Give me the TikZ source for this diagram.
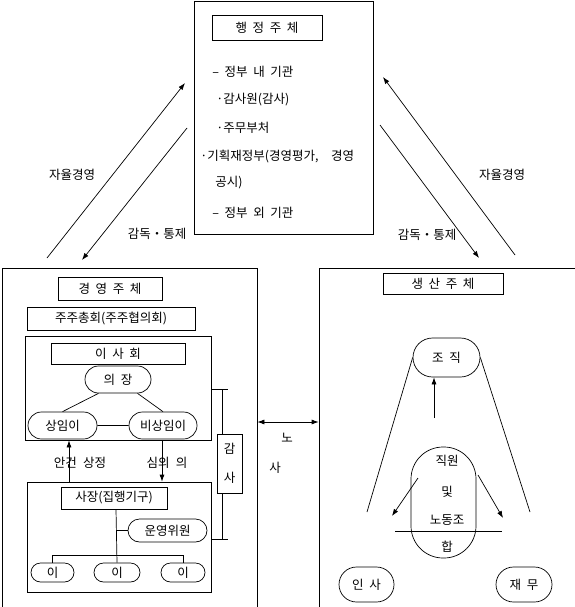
\documentclass[tikz,border=0pt]{standalone}
\usepackage{fontspec}
\setmainfont[WordSpace=2]{Noto Sans CJK KR}
\usetikzlibrary{shapes.misc,arrows.meta}

\begin{document}
\begin{tikzpicture}[x=1pt,y=-1pt,>={Latex[length=7pt,width=5pt]},line width=0.7pt,
    every node/.style={font=\fontsize{12.5}{15}\selectfont},
    box/.style={draw,inner sep=0pt},
    pill/.style={draw,rounded rectangle,inner sep=0pt},
    txt/.style={anchor=west,inner sep=0pt}]
    \useasboundingbox (0,0) rectangle (574,607);

    % Administration box (top)
    \node[box,minimum width=179pt,minimum height=233pt] (gov) at (283.5,117.5) {};
    \node[box,minimum width=110pt,minimum height=25pt] (govtitle) at (267,27.5) {행 정 주 체};
    \node[txt] (g1) at (212,72) {– 정부 내 기관};
    \node[txt] (g2) at (216,100) {·감사원(감사)};
    \node[txt] (g3) at (216,128) {·주무부처};
    \node[txt] (g4) at (200,157) {·기획재정부(경영평가,\quad 경영};
    \node[txt] (g5) at (215,183) {공시)};
    \node[txt] (g6) at (212,213) {– 정부 외 기관};

    % Management box (left)
    \node[box,minimum width=255pt,minimum height=342pt] (mgmt) at (129.5,439) {};
    \node[box,minimum width=104pt,minimum height=23pt] (mgmttitle) at (110,288.5) {경 영 주 체};
    \node[box,minimum width=168pt,minimum height=23pt] (owners) at (111,318.5) {주주총회(주주협의회)};

    % Board of directors
    \node[box,minimum width=186pt,minimum height=104pt] (board) at (118,388) {};
    \node[box,minimum width=134pt,minimum height=21pt] (boardtitle) at (118,353.5) {이 사 회};
    \node[pill,minimum width=66pt,minimum height=27pt] (chair) at (118,379.5) {의 장};
    \node[pill,minimum width=69pt,minimum height=27pt] (full) at (62.5,425.5) {상임이};
    \node[pill,minimum width=68pt,minimum height=27pt] (part) at (163,425.5) {비상임이};
    \draw (chair.south west) -- (full.north);
    \draw (chair.south east) -- (part.north);
    \draw (full) -- (part);

    % Executive
    \node[box,minimum width=184pt,minimum height=110pt] (exec) at (119,537) {};
    \node[box,minimum width=106pt,minimum height=22pt] (ceo) at (114,498) {사장(집행기구)};
    \node[pill,minimum width=79pt,minimum height=23pt] (comm) at (167.5,530.5) {운영위원};
    \foreach \i/\x/\w in {1/52.5/43,2/117/46,3/183/44} {
        \node[pill,minimum width=\w pt,minimum height=19pt] (dir\i) at (\x,572.5) {이};
      }
    \coordinate (stem) at (116,555);
    \draw (stem |- ceo.south) -- (dir2.north);
    \draw (stem |- comm) -- (comm.west);
    \draw (dir1.north) -- (dir1.north |- stem) -- (dir3.north |- stem) -- (dir3.north);

    % Board <-> executive
    \coordinate (up) at (69,0);
    \coordinate (down) at (162,0);
    \draw[->] (exec.north -| up) -- (board.south -| up);
    \draw[->] (board.south -| down) -- (exec.north -| down);
    \node (l1) at (80,463) {안건\enspace 상정};
    \node (l2) at (167,463) {심의\enspace 의};

    % Auditor
    \node[box,minimum width=25pt,minimum height=59pt,align=center] (audit) at (229.5,463.5) {감\\[14pt]사};
    \coordinate (atop) at (222,389);
    \coordinate (abot) at (222,539);
    \draw (board.east |- atop) -- ++(17,0);
    \draw (exec.east |- abot) -- ++(17,0);
    \draw (atop) -- (audit.north -| atop);
    \draw (audit.south -| abot) -- (abot);

    % Production box (right)
    \node[box,minimum width=261pt,minimum height=342pt] (prod) at (449.5,439) {};
    \node[box,minimum width=120pt,minimum height=21pt] (prodtitle) at (443,283.5) {생 산 주 체};
    \node[pill,minimum width=67pt,minimum height=39pt] (org) at (446.5,357.5) {조 직};
    \node[draw,rounded corners=32pt,minimum width=65pt,minimum height=111pt,inner sep=0pt] (staff) at (443.5,502.5) {};
    \node (s1) at (447,461) {직원};
    \node (s2) at (447,492) {및};
    \node (s3) at (447,520) {노동조};
    \node (s4) at (447,547) {합};
    \node[pill,minimum width=55pt,minimum height=35pt] (hr) at (366.5,584.5) {인 사};
    \node[pill,minimum width=56pt,minimum height=35pt] (fin) at (524,584.5) {재 무};
    \coordinate (ul) at (367,512);
    \coordinate (ur) at (530,512);
    \coordinate (tail) at (434,418);
    \draw (org.west) -- (ul);
    \draw (org.east) -- (ur);
    \draw[->] (tail) -- (org.south -| tail);
    \draw (395,531) -- (502,531);
    \draw[->] (418,478) -- (392,516);
    \draw[->] (478,475) -- (503,518);

    % Management <-> production
    \coordinate (mid) at (0,422);
    \draw[<->] (mgmt.east |- mid) -- (prod.west |- mid);
    \node (n1) at (287,438) {노};
    \node (n2) at (275,468) {사};

    % Arrows to administration
    \coordinate (a1) at (47,258);
    \coordinate (a2) at (185,83);
    \coordinate (a3) at (187,128);
    \coordinate (a4) at (82,260);
    \coordinate (b1) at (515,255);
    \coordinate (b2) at (383,77);
    \coordinate (b3) at (380,125);
    \coordinate (b4) at (479,258);
    \draw[->] (a1) -- (a2);
    \draw[->] (a3) -- (a4);
    \draw[->] (b1) -- (b2);
    \draw[->] (b3) -- (b4);
    \node (k1) at (72,175) {자율경영};
    \node (k2) at (157,234) {감독・통제};
    \node (k3) at (502,175) {자율경영};
    \node (k4) at (427,235) {감독・통제};
  \end{tikzpicture}
\end{document}
